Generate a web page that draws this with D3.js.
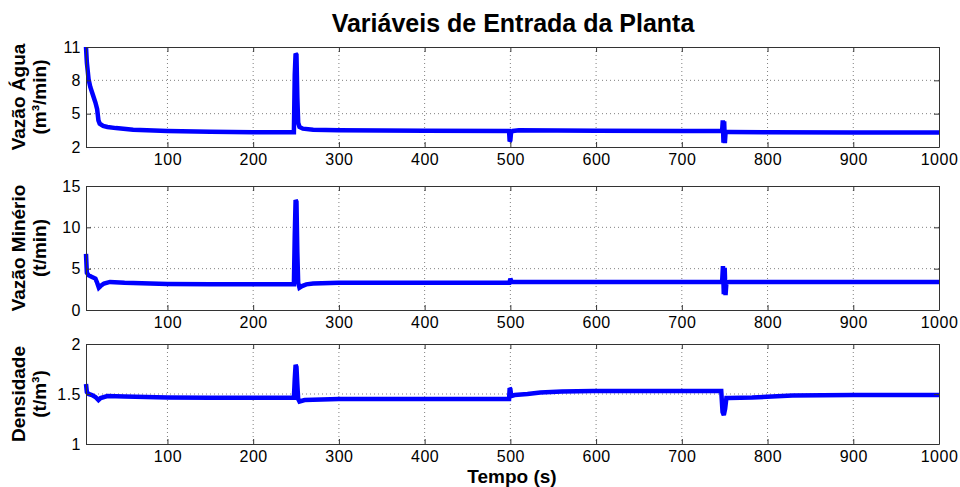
<html>
<head>
<meta charset="utf-8">
<title>Variáveis de Entrada da Planta</title>
<style type="text/css">
  body { margin: 0; background: #fff; }
  text { font-family: "Liberation Sans", Arial, sans-serif; }
</style>
<script src="https://d3js.org/d3.v7.min.js"></script>
</head>
<body>
<svg width="960" height="487"></svg>
<script>
// tempo (s) e valores
var tAgua = [5, 6, 8, 10, 13, 16, 18, 19.5, 21, 25, 30, 40, 60, 100, 150, 200, 247.5, 248.5, 249.5, 250.5, 251.5, 252.5, 254, 258, 270, 300, 400, 498.5, 499.2, 500, 500.8, 503, 510, 600, 700, 747, 747.8, 748.6, 749.4, 750.2, 751, 752, 755, 800, 900, 1000];
var vAgua = [11, 9.6, 8.1, 7.4, 6.7, 6.0, 5.4, 4.4, 4.1, 3.9, 3.8, 3.7, 3.55, 3.45, 3.38, 3.33, 3.33, 8.5, 10.4, 10.3, 6.5, 4.2, 3.8, 3.65, 3.55, 3.5, 3.47, 3.45, 2.5, 2.6, 3.3, 3.45, 3.5, 3.47, 3.45, 3.45, 4.4, 2.4, 4.3, 2.35, 3.3, 3.35, 3.35, 3.32, 3.3, 3.3];

var tMinerio = [5, 6, 8, 12, 16, 18, 20, 22, 26, 33, 50, 100, 150, 200, 247.5, 248.5, 249.5, 250.5, 251.5, 252.5, 254, 257, 262, 270, 300, 400, 498, 499, 500, 501, 503, 600, 700, 747, 748, 749, 750, 751, 752, 755, 800, 900, 1000];
var vMinerio = [6.8, 4.5, 4.2, 4.0, 3.8, 3.3, 2.7, 2.9, 3.2, 3.4, 3.3, 3.15, 3.1, 3.1, 3.1, 9.0, 13.3, 13.1, 7.0, 3.3, 2.7, 2.9, 3.1, 3.2, 3.3, 3.3, 3.3, 3.3, 3.8, 3.5, 3.4, 3.4, 3.4, 3.4, 5.3, 1.9, 5.1, 1.8, 3.3, 3.4, 3.4, 3.4, 3.4];

var tDensidade = [5, 6, 8, 12, 16, 19.5, 22, 30, 50, 100, 150, 200, 247.5, 248.5, 249.5, 250.5, 251.5, 252.5, 254, 260, 300, 400, 498.5, 499.2, 500, 501, 505, 520, 535, 560, 596, 650, 700, 746, 747.5, 749, 750.5, 752, 755, 782, 829, 900, 1000];
var vDensidade = [1.6, 1.52, 1.5, 1.49, 1.47, 1.44, 1.46, 1.48, 1.475, 1.465, 1.463, 1.462, 1.462, 1.65, 1.79, 1.77, 1.6, 1.45, 1.425, 1.44, 1.45, 1.45, 1.45, 1.56, 1.55, 1.48, 1.49, 1.5, 1.515, 1.525, 1.53, 1.53, 1.53, 1.53, 1.32, 1.29, 1.35, 1.46, 1.46, 1.465, 1.485, 1.49, 1.49];

var xTicks = [100, 200, 300, 400, 500, 600, 700, 800, 900, 1000];

var paineis = [
  {t: tAgua, v: vAgua, dom: [2, 11], ticks: [2, 5, 8, 11], top: 47, bottom: 147, rot: ["Vazão Água", "(m³/min)"]},
  {t: tMinerio, v: vMinerio, dom: [0, 15], ticks: [0, 5, 10, 15], top: 186, bottom: 310, rot: ["Vazão Minério", "(t/min)"]},
  {t: tDensidade, v: vDensidade, dom: [1, 2], ticks: [1, 1.5, 2], top: 344, bottom: 444, rot: ["Densidade", "(t/m³)"]}
];

var svg = d3.select("svg");
var left = 86, right = 939;

var x = d3.scaleLinear().domain([5, 1000]).range([left, right]);

svg.append("text")
  .attr("x", 513).attr("y", 32)
  .attr("text-anchor", "middle")
  .attr("font-size", 25).attr("font-weight", "bold")
  .text("Variáveis de Entrada da Planta");

paineis.forEach(function(p){
  var y = d3.scaleLinear().domain(p.dom).range([p.bottom, p.top]);
  var g = svg.append("g");

  // grade pontilhada
  g.selectAll(".gx").data(xTicks.slice(0, -1)).enter().append("line")
    .attr("x1", d=>x(d)).attr("x2", d=>x(d))
    .attr("y1", p.top).attr("y2", p.bottom)
    .attr("stroke", "#808080").attr("stroke-width", 1).attr("stroke-dasharray", "1,3");
  g.selectAll(".gy").data(p.ticks.slice(1, -1)).enter().append("line")
    .attr("x1", left).attr("x2", right)
    .attr("y1", d=>y(d)).attr("y2", d=>y(d))
    .attr("stroke", "#808080").attr("stroke-width", 1).attr("stroke-dasharray", "1,3");

  // linha
  var linha = d3.line().x(d=>x(d[0])).y(d=>y(d[1]));
  g.append("path")
    .datum(p.t.map((t, i)=>[t, p.v[i]]))
    .attr("d", linha)
    .attr("fill", "none")
    .attr("stroke", "#0000ff")
    .attr("stroke-width", 4.5)
    .attr("stroke-linejoin", "miter")
    .attr("stroke-miterlimit", 2);

  // eixos (caixa com ticks para dentro)
  var ax = [
    g.append("g").attr("transform", `translate(0,${p.bottom})`).call(d3.axisBottom(x).tickValues(xTicks).tickSizeInner(-5).tickSizeOuter(0).tickPadding(7).tickFormat(d3.format("d"))),
    g.append("g").attr("transform", `translate(0,${p.top})`).call(d3.axisTop(x).tickValues(xTicks).tickSizeInner(-5).tickSizeOuter(0).tickFormat("")),
    g.append("g").attr("transform", `translate(${left},0)`).call(d3.axisLeft(y).tickValues(p.ticks).tickSizeInner(-5).tickSizeOuter(0).tickPadding(5).tickFormat(d3.format(""))),
    g.append("g").attr("transform", `translate(${right},0)`).call(d3.axisRight(y).tickValues(p.ticks).tickSizeInner(-5).tickSizeOuter(0).tickFormat(""))
  ];
  ax.forEach(function(a){
    a.selectAll("path.domain").attr("stroke", "#333").attr("stroke-width", 1);
    a.selectAll(".tick line").attr("stroke", "#333");
    a.selectAll(".tick text").attr("font-size", 16).attr("letter-spacing", 0.5).attr("fill", "#000")
      .attr("font-family", "'Liberation Sans', Arial, sans-serif");
  });

  // rótulo do eixo y
  var cy = (p.top + p.bottom) / 2;
  g.append("text")
    .attr("transform", `translate(25,${cy}) rotate(-90)`)
    .attr("text-anchor", "middle")
    .attr("font-size", 19).attr("font-weight", "bold")
    .text(p.rot[0]);
  g.append("text")
    .attr("transform", `translate(46,${cy}) rotate(-90)`)
    .attr("text-anchor", "middle")
    .attr("font-size", 19).attr("font-weight", "bold")
    .text(p.rot[1]);
});

svg.append("text")
  .attr("x", 512).attr("y", 483)
  .attr("text-anchor", "middle")
  .attr("font-size", 19).attr("font-weight", "bold")
  .text("Tempo (s)");
</script>
</body>
</html>
